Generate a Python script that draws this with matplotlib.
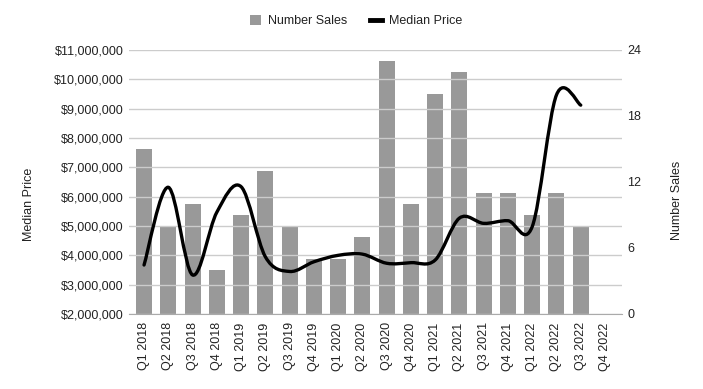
import matplotlib
matplotlib.use("Agg")
import matplotlib.pyplot as plt
from matplotlib.path import Path
from matplotlib.patches import PathPatch, Patch
from matplotlib.lines import Line2D
from matplotlib.ticker import FuncFormatter
import numpy as np

plt.rcParams['font.family'] = ['Liberation Sans', 'DejaVu Sans']

# quarters on the x axis
quarters = ["Q1 2018", "Q2 2018", "Q3 2018", "Q4 2018",
            "Q1 2019", "Q2 2019", "Q3 2019", "Q4 2019",
            "Q1 2020", "Q2 2020", "Q3 2020", "Q4 2020",
            "Q1 2021", "Q2 2021", "Q3 2021", "Q4 2021",
            "Q1 2022", "Q2 2022", "Q3 2022", "Q4 2022"]

# number of sales per quarter (Q4 2022 has no data)
number_sales = [15, 8, 10, 4, 9, 13, 8, 5, 5, 7, 23, 10, 20, 22, 11, 11, 9, 11, 8]

# median price per quarter, in dollars
median_price = [3670000, 6320000, 3330000, 5470000, 6340000, 3950000, 3450000,
                3780000, 4000000, 4040000, 3730000, 3750000, 3840000, 5270000,
                5090000, 5180000, 4980000, 9470000, 9120000]

price_ticks = [2000000, 3000000, 4000000, 5000000, 6000000,
               7000000, 8000000, 9000000, 10000000, 11000000]
sales_ticks = [0, 6, 12, 18, 24]

BAR_COLOR = "#999999"
GRID_COLOR = "#cccccc"
TEXT_COLOR = "#222222"
FS = 9


# smooth curve through the points (catmull-rom as cubic bezier segments)
def smooth_path(xs, ys):
    pts = np.column_stack([xs, ys]).astype(float)
    verts = [pts[0]]
    codes = [Path.MOVETO]
    n = len(pts)
    for i in range(n - 1):
        p0 = pts[max(i - 1, 0)]
        p1 = pts[i]
        p2 = pts[i + 1]
        p3 = pts[min(i + 2, n - 1)]
        c1 = p1 + (p2 - p0) / 6.0
        c2 = p2 - (p3 - p1) / 6.0
        verts += [c1, c2, p2]
        codes += [Path.CURVE4] * 3
    return Path(verts, codes)


fig = plt.figure(figsize=(7.03, 3.89), dpi=100)
ax = fig.add_axes([129 / 703, 1 - 314 / 389, (622 - 129) / 703, (314 - 50) / 389])
ax2 = ax.twinx()

x = np.arange(len(quarters))

# bars on the right axis
ax2.bar(x[:len(number_sales)], number_sales, width=0.66, color=BAR_COLOR, zorder=2)
ax2.set_ylim(0, 24)
ax2.set_yticks(sales_ticks)

# line on the left axis, drawn above the bars
ax.set_zorder(ax2.get_zorder() + 1)
ax.patch.set_visible(False)
path = smooth_path(x[:len(median_price)], median_price)
ax.add_patch(PathPatch(path, facecolor="none", edgecolor="black", lw=2.4,
                       capstyle="round", joinstyle="round", zorder=3))
ax.set_ylim(2000000, 11000000)
ax.set_yticks(price_ticks)
ax.yaxis.set_major_formatter(FuncFormatter(lambda v, p: "${:,.0f}".format(v)))
ax.set_xlim(-0.62, len(quarters) - 1 + 0.7)
ax.set_xticks(x)
ax.set_xticklabels(quarters, rotation=90)

ax.grid(axis="y", color=GRID_COLOR, lw=1)
ax.set_axisbelow(True)
for a in (ax, ax2):
    for s in a.spines.values():
        s.set_visible(False)
ax.spines["bottom"].set_visible(True)
ax.spines["bottom"].set_color("#aaaaaa")

ax.tick_params(axis="y", length=0, pad=4, labelsize=FS, labelcolor=TEXT_COLOR)
ax.tick_params(axis="x", length=0, pad=6, labelsize=FS, labelcolor=TEXT_COLOR)
ax2.tick_params(axis="y", length=0, pad=4, labelsize=FS, labelcolor=TEXT_COLOR)

ax.set_ylabel("Median Price", fontsize=FS, color=TEXT_COLOR)
ax.yaxis.set_label_coords(-0.19, 0.415)
ax2.set_ylabel("Number Sales", fontsize=FS, color=TEXT_COLOR, rotation=90)
ax2.yaxis.set_label_coords(1.1, 0.43)

handles = [Patch(facecolor=BAR_COLOR, edgecolor="none"),
           Line2D([0], [0], color="black", lw=3.5)]
fig.legend(handles, ["Number Sales", "Median Price"], loc="center",
           bbox_to_anchor=(356 / 703, 1 - 21 / 389), ncol=2, frameon=False,
           fontsize=FS, handlelength=0.9, handleheight=0.9, columnspacing=1.8,
           handletextpad=0.6, labelcolor=TEXT_COLOR)

fig.savefig("out.png", dpi=100)
